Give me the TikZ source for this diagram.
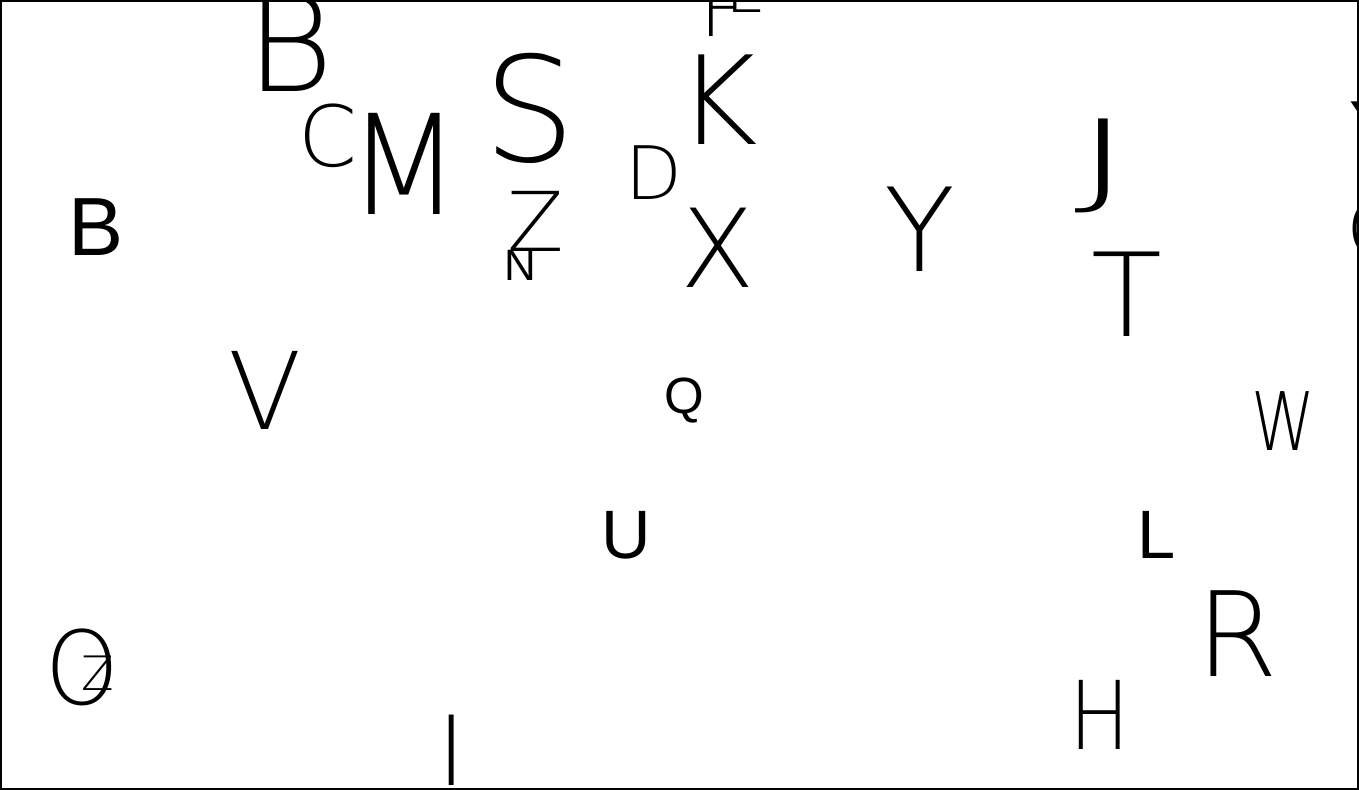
\documentclass[tikz,border=0pt]{standalone}
\usepackage{fontspec}
\newfontfamily\letterfont{Liberation Sans}
\newfontfamily\hairfont{DejaVu Sans ExtraLight}
\begin{document}
\begin{tikzpicture}[x=0.02cm,y=-0.02cm,
    letter/.style={font=\letterfont\fontsize{10}{10}\selectfont,anchor=base,inner sep=0pt},
    hair/.style={font=\hairfont\fontsize{10}{10}\selectfont,anchor=base,inner sep=0pt}]
    \useasboundingbox (0,0) rectangle (1359,790);
    \begin{scope}
        \clip (0,0) rectangle (1359,790);
        % upper left group
        \node[hair,scale=7.6] (bBig) at (290,92) {B};
        \node[hair,scale=4.8] (cTop) at (328,167) {C};
        \node[hair,scale=7.9,xscale=0.95] (mTop) at (404,215) {M};
        \node[letter,scale=4.7] (bSmall) at (96,256) {B};
        \node[hair,scale=8.3] (sTop) at (530,162) {S};
        \node[hair,scale=4.7] (zMid) at (536,252) {Z};
        \node[letter,scale=2.5] (nMid) at (520,281) {N};
        % upper middle group
        \node[hair,scale=4.2] (fTop) at (722,37) {F};
        \node[hair,scale=3.8] (lTop) at (744,13) {L};
        \node[hair,scale=7.0] (kTop) at (718,145) {K};
        \node[hair,scale=4.2] (dTop) at (654,200) {D};
        \node[hair,scale=6.2] (xMid) at (718,288) {X};
        \node[hair,scale=6.6] (yMid) at (920,272) {Y};
        % right group
        \node[hair,scale=5.9,xscale=1.9] (jTop) at (1104,195) {J};
        \node[hair,scale=6.6] (tMid) at (1127,337) {T};
        \node[hair,scale=4.6,xscale=0.8] (wMid) at (1283,450) {W};
        \node[letter,scale=3.9] (lLow) at (1157,558) {L};
        \node[hair,scale=6.7] (rLow) at (1237,676) {R};
        \node[hair,scale=5.4,xscale=0.85] (hLow) at (1100,749) {H};
        \node[hair,scale=6.3] (yEdge) at (1382,183) {Y};
        \node[hair,scale=4.5] (cEdge) at (1374,258) {C};
        % lower left group
        \node[hair,scale=6.1] (vMid) at (265,430) {V};
        \node[letter,scale=2.9] (qMid) at (684,414) {Q};
        \node[letter,scale=3.9] (uLow) at (626,558) {U};
        \node[hair,scale=5.5] (iLow) at (452,785) {I};
        \node[hair,scale=5.8,xscale=0.92] (oLow) at (82,704) {O};
        \node[hair,scale=2.7] (zLow) at (98,690) {Z};
    \end{scope}
    % frame
    \draw[line width=1.2pt] (1,1) rectangle (1358,789);
\end{tikzpicture}
\end{document}
